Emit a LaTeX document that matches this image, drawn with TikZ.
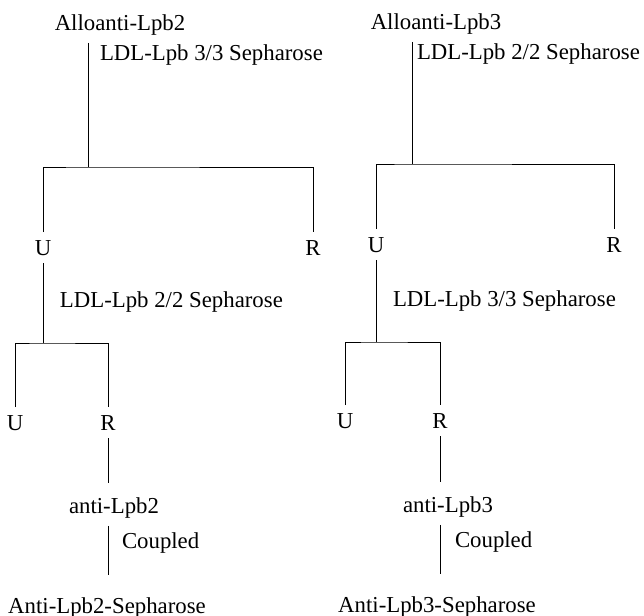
\documentclass[tikz,border=0pt]{standalone}
\usepackage{fontspec}
\setmainfont{Liberation Serif}
\begin{document}
\begin{tikzpicture}[x=0.5pt,y=-0.5pt,
    lbl/.style={anchor=base,inner sep=0pt,outer sep=4pt,font=\fontsize{11.4}{13}\selectfont},
    sidelbl/.style={anchor=base west,inner sep=0pt,outer sep=0pt,font=\fontsize{11.4}{13}\selectfont},
    every path/.style={line width=0.5pt}]
    \useasboundingbox (0,0) rectangle (644,616);
    % left column
    \node[lbl] (allo2) at (120,30) {Alloanti-Lpb2};
    \node[sidelbl] (ldl2a) at (100,60) {LDL-Lpb 3/3 Sepharose};
    \coordinate (b2) at (88,167);
    \node[lbl] (u2) at (43,255) {U};
    \node[lbl] (r2) at (313,255) {R};
    \draw (allo2.south -| b2) -- (b2);
    \draw (u2.north) |- (b2) -| (r2.north);
    \node[sidelbl] (ldl2b) at (60,307) {LDL-Lpb 2/2 Sepharose};
    \coordinate (c2) at (43,343);
    \node[lbl] (uu2) at (15,430) {U};
    \node[lbl] (ru2) at (108,430) {R};
    \draw (u2.south) -- (c2);
    \draw (uu2.north) |- (c2) -| (ru2.north);
    \node[lbl] (anti2) at (114,513) {anti-Lpb2};
    \node[sidelbl] (coup2) at (122,548) {Coupled};
    \node[lbl] (seph2) at (107,613) {Anti-Lpb2-Sepharose};
    \draw[shorten >=3pt] (ru2.south) -- (ru2.south |- anti2.north);
    \draw[shorten >=7pt] (ru2 |- anti2.south) -- (ru2 |- seph2.north);
    % right column
    \node[lbl] (allo3) at (436,29) {Alloanti-Lpb3};
    \node[sidelbl] (ldl3a) at (417,59) {LDL-Lpb 2/2 Sepharose};
    \coordinate (b3) at (412,164);
    \node[lbl] (u3) at (376,252) {U};
    \node[lbl] (r3) at (614,252) {R};
    \draw (allo3.south -| b3) -- (b3);
    \draw (u3.north) |- (b3) -| (r3.north);
    \node[sidelbl] (ldl3b) at (393,306) {LDL-Lpb 3/3 Sepharose};
    \coordinate (c3) at (376,342);
    \node[lbl] (uu3) at (345,428) {U};
    \node[lbl] (ru3) at (440,428) {R};
    \draw (u3.south) -- (c3);
    \draw (uu3.north) |- (c3) -| (ru3.north);
    \node[lbl] (anti3) at (448,512) {anti-Lpb3};
    \node[sidelbl] (coup3) at (455,547) {Coupled};
    \node[lbl] (seph3) at (437,612) {Anti-Lpb3-Sepharose};
    \draw[shorten >=3pt] (ru3.south) -- (ru3.south |- anti3.north);
    \draw[shorten >=7pt] (ru3 |- anti3.south) -- (ru3 |- seph3.north);
\end{tikzpicture}
\end{document}
